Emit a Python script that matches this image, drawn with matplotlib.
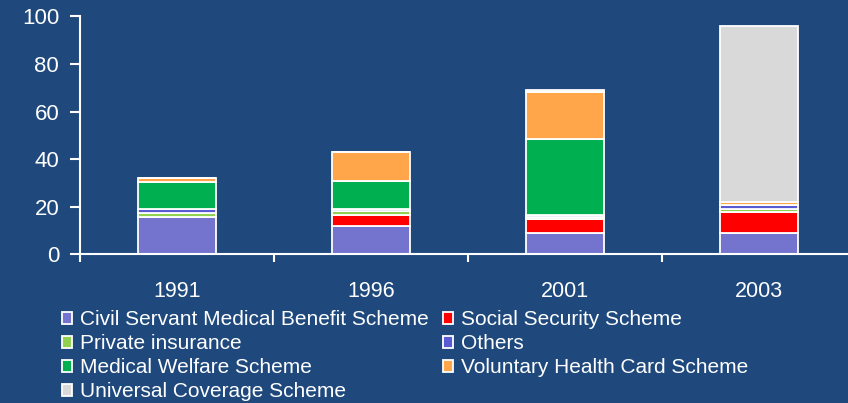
import numpy as np
import matplotlib.pyplot as plt

plt.rcParams['font.family'] = ['Liberation Sans', 'DejaVu Sans']

years = ['1991', '1996', '2001', '2003']
csmbs = [15.8, 11.9, 8.8, 8.8]
sss = [0.0, 4.6, 5.9, 8.8]
private = [1.4, 1.5, 1.0, 1.5]
others = [1.8, 1.2, 0.8, 1.5]
mws = [11.5, 11.5, 31.8, 0.3]
vhc = [1.6, 12.3, 20.0, 1.2]
uc = [0.0, 0.0, 0.8, 73.9]

series = [
    ('Civil Servant Medical Benefit Scheme', csmbs, '#7474CE'),
    ('Social Security Scheme', sss, '#FF0000'),
    ('Private insurance', private, '#92D050'),
    ('Others', others, '#5A5AD2'),
    ('Medical Welfare Scheme', mws, '#00B050'),
    ('Voluntary Health Card Scheme', vhc, '#FFA64B'),
    ('Universal Coverage Scheme', uc, '#D9D9D9'),
]

bg = '#1F497D'
fig = plt.figure(figsize=(8.48, 4.03), dpi=100, facecolor=bg)
ax = fig.add_axes([80 / 848, 148.7 / 403, 776 / 848, 238 / 403])
ax.set_facecolor(bg)

x = np.arange(len(years))
bottom = np.zeros(len(years))
handles = {}
for name, vals, col in series:
    b = ax.bar(x, vals, 0.40, bottom=bottom, color=col, edgecolor='white',
               linewidth=1.3, label=name)
    handles[name] = b
    bottom += np.array(vals)

ax.set_xlim(-0.5, 3.5)
ax.set_ylim(0, 100)
ax.set_yticks(range(0, 101, 20))
ax.set_xticks(np.arange(-0.5, 4, 1))
ax.set_xticklabels([])
ax.set_xticks(x, minor=True)
ax.set_xticklabels(years, minor=True)
ax.tick_params(axis='x', which='minor', length=0, pad=19, labelsize=15.5, colors='white')
ax.tick_params(axis='x', which='major', length=6, width=1.5, color='white', direction='out')
ax.tick_params(axis='y', length=7, width=1.5, color='white', labelcolor='white',
               labelsize=16, pad=8)
for s in ['top', 'right']:
    ax.spines[s].set_visible(False)
for s in ['left', 'bottom']:
    ax.spines[s].set_color('white')
    ax.spines[s].set_linewidth(1.5)

order = ['Civil Servant Medical Benefit Scheme', 'Private insurance',
         'Medical Welfare Scheme', 'Universal Coverage Scheme',
         'Social Security Scheme', 'Others', 'Voluntary Health Card Scheme']
leg = fig.legend([handles[n] for n in order], order, ncol=2, loc='upper left',
                 bbox_to_anchor=(62 / 848, 1 - 310 / 403), frameon=False,
                 fontsize=15, labelcolor='white', handlelength=0.5, handleheight=0.5,
                 handletextpad=0.35, columnspacing=0.7, labelspacing=0.24,
                 borderpad=0, borderaxespad=0)

fig.savefig('out.png', dpi=100, facecolor=bg)
